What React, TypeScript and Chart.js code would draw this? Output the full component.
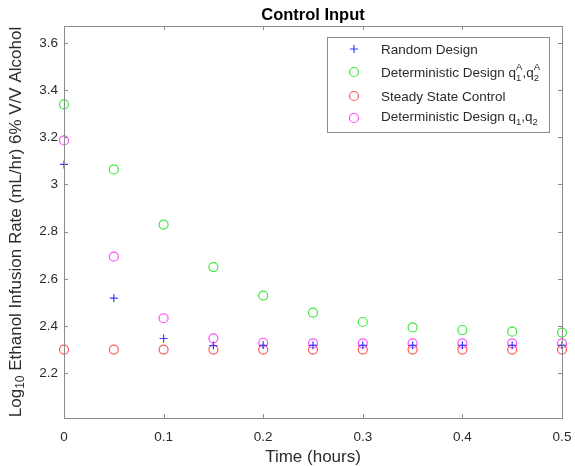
import React, { useEffect, useRef } from "react";
import { Chart, registerables } from "chart.js";

Chart.register(...registerables);

const times = [0, 0.05, 0.1, 0.15, 0.2, 0.25, 0.3, 0.35, 0.4, 0.45, 0.5];
const randomDesign = [3.085, 2.518, 2.347, 2.317, 2.318, 2.318, 2.318, 2.318, 2.318, 2.318, 2.318];
const detDesignA = [3.34, 3.064, 2.83, 2.65, 2.529, 2.457, 2.417, 2.394, 2.383, 2.376, 2.372];
const steadyState = [2.3, 2.3, 2.3, 2.3, 2.3, 2.3, 2.3, 2.3, 2.3, 2.3, 2.3];
const detDesign = [3.187, 2.694, 2.433, 2.348, 2.329, 2.326, 2.326, 2.326, 2.326, 2.326, 2.326];

const xTicks = [0, 0.1, 0.2, 0.3, 0.4, 0.5];
const yTicks = [2.2, 2.4, 2.6, 2.8, 3.0, 3.2, 3.4, 3.6];

const titleText = "Control Input";
const xTitle = "Time (hours)";
const yTitleMain = " Ethanol Infusion Rate (mL/hr) 6% V/V Alcohol";

const FONT = "'Liberation Sans', Arial, Helvetica, sans-serif";
const TEXT = "#2b2b2b";
const AXIS = "#8c8c8c";

const BLUE = "#3c3cff";
const GREEN = "#3ee83e";
const RED = "#ff5a5a";
const MAGENTA = "#ff4dff";

const toPts = (arr: number[]) => arr.map((y, i) => ({ x: times[i], y }));

const decor = {
  id: "decor",
  afterDraw(chart: any) {
    const { ctx, chartArea: a, scales } = chart;
    const xs = scales.x, ys = scales.y;
    ctx.save();
    // box
    ctx.strokeStyle = AXIS;
    ctx.lineWidth = 1;
    ctx.strokeRect(Math.round(a.left) + 0.5, Math.round(a.top) + 0.5, Math.round(a.right - a.left), Math.round(a.bottom - a.top));
    // inward ticks
    const tl = 4;
    ctx.beginPath();
    xTicks.forEach((v) => {
      const px = Math.round(xs.getPixelForValue(v)) + 0.5;
      ctx.moveTo(px, a.bottom); ctx.lineTo(px, a.bottom - tl);
      ctx.moveTo(px, a.top); ctx.lineTo(px, a.top + tl);
    });
    yTicks.forEach((v) => {
      const py = Math.round(ys.getPixelForValue(v)) + 0.5;
      ctx.moveTo(a.left, py); ctx.lineTo(a.left + tl, py);
      ctx.moveTo(a.right, py); ctx.lineTo(a.right - tl, py);
    });
    ctx.stroke();

    // title
    ctx.fillStyle = "#000";
    ctx.font = `bold 16.5px ${FONT}`;
    ctx.textAlign = "center";
    ctx.textBaseline = "middle";
    ctx.fillText(titleText, (a.left + a.right) / 2, 15);

    // y title with subscript
    ctx.fillStyle = TEXT;
    ctx.save();
    ctx.translate(16, (a.top + a.bottom) / 2);
    ctx.rotate(-Math.PI / 2);
    const big = `17px ${FONT}`;
    const small = `12px ${FONT}`;
    ctx.font = big;
    const w1 = ctx.measureText("Log").width;
    const w3 = ctx.measureText(yTitleMain).width;
    ctx.font = small;
    const w2 = ctx.measureText("10").width;
    let x0 = -(w1 + w2 + w3) / 2;
    ctx.textAlign = "left";
    ctx.textBaseline = "middle";
    ctx.font = big;
    ctx.fillText("Log", x0, 0);
    ctx.font = small;
    ctx.fillText("10", x0 + w1, 5);
    ctx.font = big;
    ctx.fillText(yTitleMain, x0 + w1 + w2, 0);
    ctx.restore();

    // legend
    const lx = 327.5, ly = 37.5, lw = 222, lh = 95;
    ctx.fillStyle = "#fff";
    ctx.fillRect(lx, ly, lw, lh);
    ctx.strokeStyle = AXIS;
    ctx.lineWidth = 1;
    ctx.strokeRect(lx, ly, lw, lh);
    const mx = 354, tx = 381;
    const rows = [50, 73, 97, 117];
    ctx.lineWidth = 1.2;
    // + marker
    ctx.strokeStyle = BLUE;
    ctx.beginPath();
    ctx.moveTo(mx - 4, rows[0] - 1); ctx.lineTo(mx + 4, rows[0] - 1);
    ctx.moveTo(mx, rows[0] - 5); ctx.lineTo(mx, rows[0] + 3);
    ctx.stroke();
    const circ = (c: string, y: number) => {
      ctx.strokeStyle = c;
      ctx.beginPath();
      ctx.arc(mx, y, 4.5, 0, Math.PI * 2);
      ctx.stroke();
    };
    circ(GREEN, rows[1] - 1);
    circ(RED, rows[2] - 1);
    circ(MAGENTA, rows[3] + 1);

    ctx.fillStyle = TEXT;
    ctx.textAlign = "left";
    ctx.textBaseline = "middle";
    const lf = `13.5px ${FONT}`;
    const sf = `9.5px ${FONT}`;
    ctx.font = lf;
    ctx.fillText("Random Design", tx, rows[0]);
    ctx.fillText("Steady State Control", tx, rows[2]);
    const drawQ = (y: number, sup: boolean) => {
      ctx.font = lf;
      let x = tx;
      const base = "Deterministic Design q";
      ctx.fillText(base, x, y);
      x += ctx.measureText(base).width;
      ctx.font = sf;
      ctx.fillText("1", x, y + 5);
      if (sup) ctx.fillText("A", x, y - 6);
      x += ctx.measureText(sup ? "A" : "1").width;
      ctx.font = lf;
      ctx.fillText(",q", x, y);
      x += ctx.measureText(",q").width;
      ctx.font = sf;
      ctx.fillText("2", x, y + 5);
      if (sup) ctx.fillText("A", x, y - 6);
    };
    drawQ(rows[1], true);
    drawQ(rows[3], false);
    ctx.restore();
  },
};

export default function App() {
  const ref = useRef<HTMLCanvasElement>(null);
  useEffect(() => {
    document.body.style.margin = "0";
    const circleDs = (label: string, data: number[], color: string) => ({
      label, data: toPts(data), pointStyle: "circle", radius: 4.5, borderColor: color,
      backgroundColor: "rgba(0,0,0,0)", borderWidth: 1.2, clip: false as any,
    });
    const chart = new Chart(ref.current!, {
      type: "scatter",
      data: {
        datasets: [
          { label: "Random Design", data: toPts(randomDesign), pointStyle: "cross", radius: 4, borderColor: BLUE, backgroundColor: BLUE, borderWidth: 1.2, clip: false as any },
          circleDs("Deterministic Design q1A,q2A", detDesignA, GREEN),
          circleDs("Steady State Control", steadyState, RED),
          circleDs("Deterministic Design q1,q2", detDesign, MAGENTA),
        ] as any,
      },
      options: {
        animation: false,
        responsive: false,
        maintainAspectRatio: false,
        layout: { padding: { left: 0, top: 26, right: 13, bottom: 0 } },
        plugins: { legend: { display: false }, tooltip: { enabled: false }, title: { display: false } },
        scales: {
          x: {
            type: "linear",
            min: 0,
            max: 0.5,
            grid: { display: false, drawTicks: false },
            border: { display: false },
            afterBuildTicks: (s: any) => { s.ticks = xTicks.map((v) => ({ value: v })); },
            afterFit: (s: any) => { s.height = 48; s.paddingLeft = 0; s.paddingRight = 0; },
            ticks: {
              padding: 11,
              color: TEXT,
              font: { family: FONT, size: 13.5 },
              maxRotation: 0,
              callback: (v: any) => String(Number(Number(v).toFixed(2))),
            },
            title: { display: true, text: xTitle, color: TEXT, font: { family: FONT, size: 17, lineHeight: 1 }, padding: { top: 0, bottom: 0 } },
          },
          y: {
            type: "linear",
            min: 2.01,
            max: 3.672,
            grid: { display: false, drawTicks: false },
            border: { display: false },
            afterBuildTicks: (s: any) => { s.ticks = yTicks.map((v) => ({ value: v })); },
            afterFit: (s: any) => { s.width = 64; s.paddingTop = 0; s.paddingBottom = 0; },
            ticks: {
              padding: 6,
              color: TEXT,
              font: { family: FONT, size: 13.5 },
              callback: (v: any) => String(Number(Number(v).toFixed(1))),
            },
          },
        },
      },
      plugins: [decor],
    });
    return () => chart.destroy();
  }, []);
  return (
    <div style={{ position: "absolute", left: 0, top: 0, width: 575, height: 466, background: "#fff" }}>
      <canvas ref={ref} width={575} height={466} style={{ width: 575, height: 466 }} />
    </div>
  );
}
